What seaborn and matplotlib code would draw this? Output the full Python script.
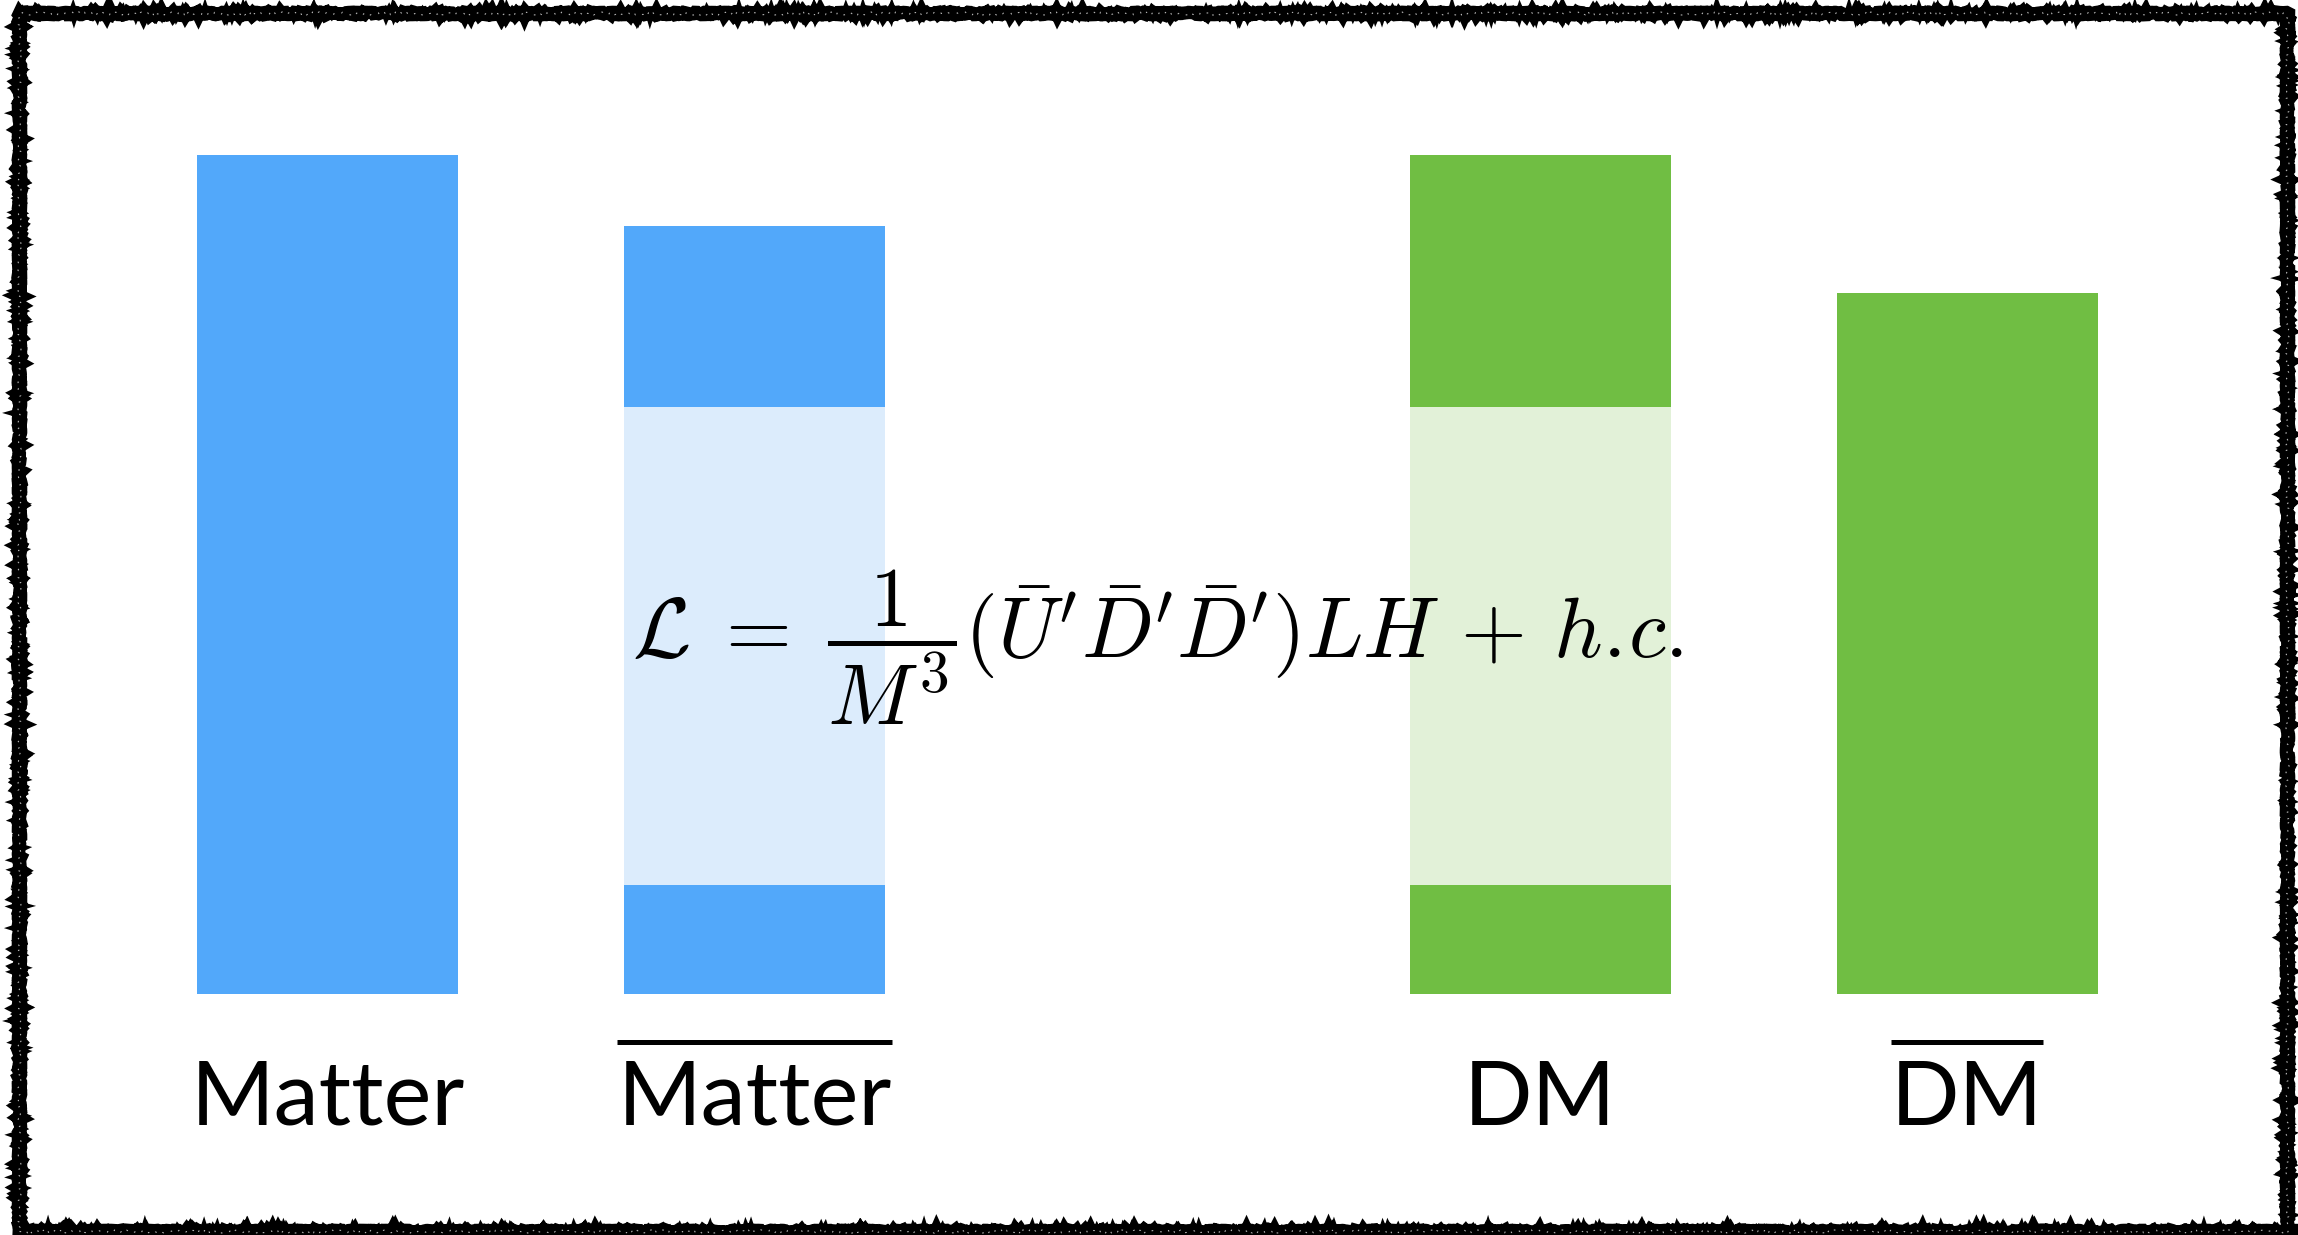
import matplotlib
matplotlib.use("Agg")
import matplotlib.pyplot as plt
from matplotlib.patches import Rectangle
import pandas as pd
import seaborn as sns

# ---- data -------------------------------------------------------------
species = ["matter", "anti-matter", "dark matter", "anti-dark matter"]
labels = ["Matter", "Matter", "DM", "DM"]
conjugate = [False, True, False, True]          # drawn with an overbar
total = [10.0, 9.15, 10.0, 8.35]                # full abundance
symmetric = [0.0, 5.7, 5.7, 0.0]                # washed-out symmetric share
base = [0.0, 1.3, 1.3, 0.0]                     # solid share below it

equation = (r"$\mathcal{L}\;=\;\dfrac{1}{M^3}"
            r"(\bar{U}'\bar{D}'\bar{D}')LH\,+\,h.\!c.$")

# ---- layout / style ---------------------------------------------------
slot = [0.0, 1.0, 2.84, 3.84]
bar_width = 0.611
dark = dict(zip(species, ["#52A8FA", "#52A8FA", "#70BE43", "#70BE43"]))
light = dict(zip(species, ["#DCECFC", "#DCECFC", "#E2F1D8", "#E2F1D8"]))

df = pd.DataFrame({
    "species": species,
    "slot": slot,
    "total": total,
    "mid": [b + s for b, s in zip(base, symmetric)],
    "base": base,
})

sns.set_style("white")
fig = plt.figure(figsize=(22.98, 12.35), dpi=100)
ax = fig.add_axes([0, 0, 1, 1])

# painter's order: full bar, pale middle band, solid foot
for col, pal in [("total", dark), ("mid", light), ("base", dark)]:
    sns.barplot(data=df, x="slot", y=col, hue="species", palette=pal,
                native_scale=True, width=bar_width, saturation=1,
                linewidth=0, errorbar=None, legend=False, dodge=False, ax=ax)

ax.set_xlim(-0.767, 4.615)
ax.set_ylim(-2.872, 11.847)
ax.axis("off")

texts = []
for x, lab in zip(slot, labels):
    t = ax.text(x, -1.56, lab, ha="center", va="baseline", fontsize=65,
                family="Lato", color="black", zorder=5)
    texts.append(t)

ax.text(1.945, 4.13, equation, ha="center", va="center", fontsize=61,
        math_fontfamily="cm", color="black", zorder=6)

# overbars spanning each conjugate label
fig.canvas.draw()
renderer = fig.canvas.get_renderer()
inv = ax.transData.inverted()
for t, conj in zip(texts, conjugate):
    if not conj:
        continue
    bb = t.get_window_extent(renderer)
    x0 = inv.transform((bb.x0, 0))[0]
    x1 = inv.transform((bb.x1, 0))[0]
    ax.plot([x0, x1], [-0.566, -0.566], color="black", lw=3.6,
            solid_capstyle="butt", zorder=5)

# rough chalk-like frame
frame = dict(transform=fig.transFigure, fill=False, zorder=10, joinstyle="miter")
x0, y0, w, h = 0.0081, 0.0035, 0.9873, 0.9863
for lw, sk, col in [(9.5, (1.2, 8, 16), "black"),
                    (6.0, (1.8, 5, 24), "black"),
                    (0.8, (1.5, 4, 30), "white")]:
    r = Rectangle((x0, y0), w, h, edgecolor=col, lw=lw, **frame)
    if col == "white":
        r.set_linestyle((0, (1.5, 7)))
        r.set_alpha(0.7)
    r.set_sketch_params(*sk)
    fig.add_artist(r)

fig.savefig("out.png", dpi=100)
